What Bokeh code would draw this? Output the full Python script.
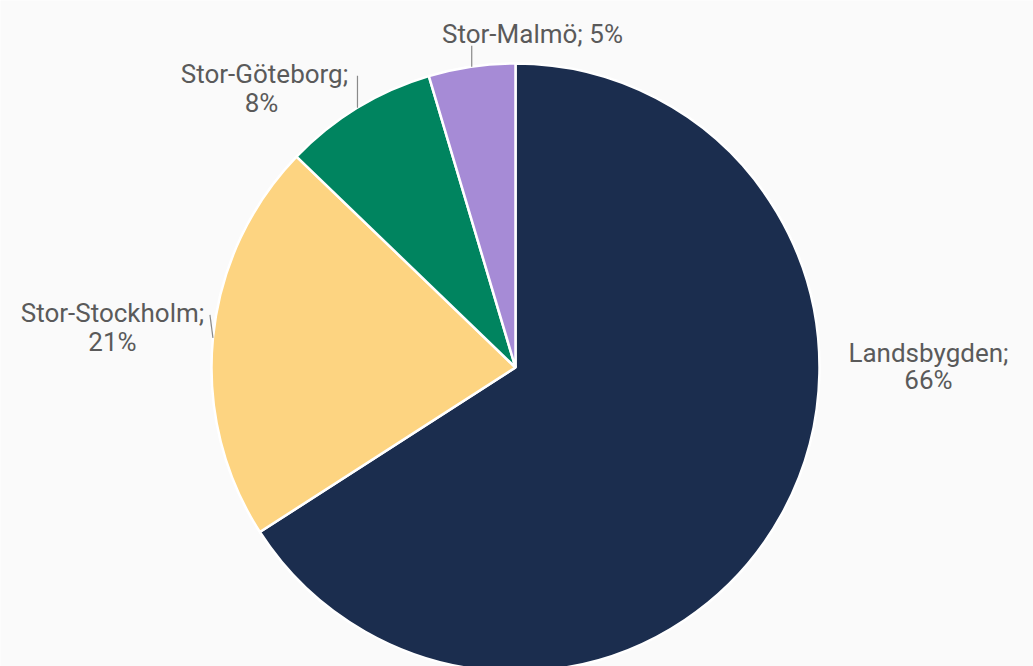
import math
from bokeh.plotting import figure
from bokeh.models import Range1d
from bokeh.core.properties import value
from bokeh.embed import file_html
from bokeh.resources import INLINE

# ---- data ----
regions = ["Landsbygden", "Stor-Stockholm", "Stor-Göteborg", "Stor-Malmö"]
shares = [65.9, 21.3, 8.2, 4.6]
pct_labels = ["66%", "21%", "8%", "5%"]
colors = ["#1b2d4e", "#fdd481", "#00845f", "#a68bd6"]

# ---- layout (pixels, screen coords: y down) ----
W, H = 1033, 666
CX, CY, R = 515, 367, 304
BG = "#fafafa"
TEXT_COLOR = "#5a5a5a"
FONT = "Roboto"
FONT_SIZE = "26px"

# label line positions: list of (text, x, baseline_y) per region
label_lines = {
    "Landsbygden": [("Landsbygden;", 928, 352), ("66%", 928, 379)],
    "Stor-Stockholm": [("Stor-Stockholm;", 112, 312), ("21%", 112, 341)],
    "Stor-Göteborg": [("Stor-Göteborg;", 264, 73), ("8%", 261, 102)],
    "Stor-Malmö": [("Stor-Malmö; 5%", 532, 33)],
}
# leader line offsets from the slice-mid edge point (dx, dy screen)
leaders = {
    "Stor-Stockholm": (-3, -23),
    "Stor-Göteborg": (0, -32),
    "Stor-Malmö": (0, -21),
}

p = figure(width=W, height=H, output_backend="svg", toolbar_location=None,
           x_range=Range1d(0, W), y_range=Range1d(0, H), min_border=0)
p.axis.visible = False
p.grid.visible = False
p.outline_line_color = None
p.background_fill_color = BG
p.border_fill_color = BG

cy_b = H - CY
total = sum(shares)
start = math.pi / 2
starts, ends, mids = [], [], []
for s in shares:
    sweep = 2 * math.pi * s / total
    end = start - sweep
    starts.append(start)
    ends.append(end)
    mids.append((start + end) / 2)
    start = end

p.wedge(x=[CX] * len(shares), y=[cy_b] * len(shares), radius=R,
        start_angle=ends, end_angle=starts, direction="anticlock",
        fill_color=colors, line_color="white", line_width=2.5)

# leader lines
for name, m in zip(regions, mids):
    if name in leaders:
        x0 = CX + R * math.cos(m)
        y0 = cy_b + R * math.sin(m)
        dx, dy = leaders[name]
        p.line([x0, x0 + dx], [y0, y0 - dy], line_color="#8a8a8a", line_width=1.2)

# labels
tx, ty, tt = [], [], []
for name in regions:
    for t, x, y in label_lines[name]:
        tx.append(x)
        ty.append(H - y)
        tt.append(t)
p.text(x=tx, y=ty, text=tt, text_align="center", text_baseline="alphabetic",
       text_font=value(FONT), text_font_size=FONT_SIZE, text_color=TEXT_COLOR)

open("out.html", "w").write(file_html(p, INLINE))
